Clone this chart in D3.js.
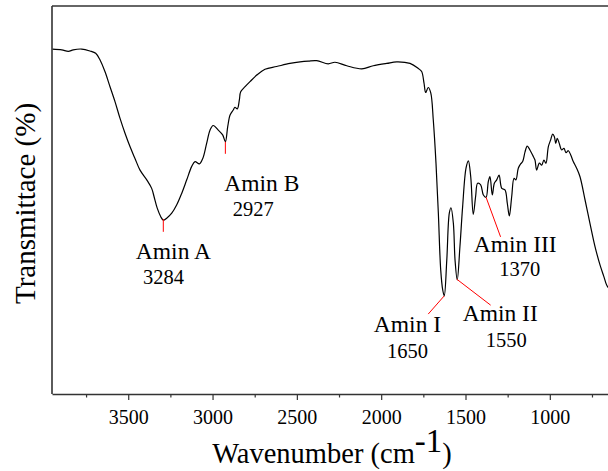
<!DOCTYPE html>
<html>
<head>
<meta charset="utf-8">
<script src="https://cdn.jsdelivr.net/npm/d3@7/dist/d3.min.js"></script>
<style>
  html, body { margin: 0; padding: 0; background: #fff; }
  svg { display: block; }
  text { font-family: "Liberation Serif", "Times New Roman", serif; fill: #000; }
</style>
</head>
<body>
<svg id="chart" width="608" height="471"></svg>
<script>
// ---- data ----
const wavenumber = [3950,3894,3855,3826,3776,3727,3693,3667,3638,3608,3578,3549,3519,3489,3460,3430,3390,3361,3347,3328,3307,3292,3272,3242,3213,3183,3153,3124,3104,3078,3058,3035,3015,2996,2966,2940,2924,2910,2896,2877,2867,2853,2841,2833,2807,2778,2738,2689,2620,2541,2481,2432,2382,2314,2274,2204,2115,2047,1967,1908,1829,1780,1760,1746,1736,1721,1706,1691,1675,1661,1647,1635,1626,1611,1596,1586,1572,1562,1549,1533,1517,1497,1483,1469,1454,1440,1428,1410,1394,1378,1365,1355,1341,1329,1315,1301,1285,1266,1252,1240,1226,1212,1201,1187,1173,1161,1147,1134,1118,1098,1088,1078,1062,1048,1035,1023,1009,995,983,973,965,956,944,930,916,904,890,876,861,841,821,791,762,732,702,679,663,643];
const transmittance = [88.9,88.7,88.3,88.7,88.9,88.4,87.8,86.1,83.1,79.2,75.3,71.1,67.2,63.7,60.7,57.7,55.2,53.0,50.9,47.9,45.7,44.8,45.3,46.6,48.7,51.7,55.2,58.6,59.9,59.3,60.7,64.6,68.0,69.2,68.0,66.8,65.0,68.9,71.9,73.2,73.9,73.5,75.8,77.9,79.2,80.5,82.2,83.7,84.4,85.2,85.6,85.8,85.9,85.1,85.5,84.6,83.8,84.6,85.2,85.6,85.2,83.9,83.1,80.1,77.7,79.0,77.6,70.6,59.5,46.6,32.0,26.8,25.3,34.5,46.6,48.0,44.0,34.5,29.4,38.0,48.3,58.2,60.1,56.0,46.3,50.9,54.3,53.9,51.3,50.7,54.7,56.0,51.3,54.3,55.2,56.4,53.0,52.6,49.1,45.9,50.9,55.6,55.2,58.2,59.3,59.9,62.4,63.9,62.9,61.2,60.3,57.7,59.5,59.0,60.3,59.5,63.7,65.5,67.0,66.3,64.6,65.9,64.6,62.9,63.3,62.2,62.7,61.6,59.9,58.2,56.0,50.0,44.0,38.0,33.2,30.2,28.1,26.8];

const majorTicks = [3500, 3000, 2500, 2000, 1500, 1000];
const minorTicks = [3750, 3250, 2750, 2250, 1750, 1250, 750];

// annotations: peak labels, names, numbers
const annNames   = ["Amin A", "Amin B", "Amin I", "Amin II", "Amin III"];
const annNumbers = ["3284", "2927", "1650", "1550", "1370"];
// leader line ends (wavenumber, transmittance)
const leadW1 = [3292, 2924, 1626, 1552, 1378];
const leadT1 = [45.1, 65.0, 25.3, 29.6, 50.7];
const leadW2 = [3292, 2924, 1721, 1351, 1292];
const leadT2 = [41.8, 61.9, 20.6, 22.9, 40.5];
// label anchor positions (wavenumber, transmittance)
const nameW = [3232, 2708, 1844, 1294, 1205];
const nameT = [34.7, 52.2, 16.1, 18.9, 36.5];
const numW  = [3291, 2758, 1844, 1259, 1179];
const numT  = [28.4, 45.9, 9.2, 12.2, 30.5];

// ---- layout ----
const mLeft = 52, mRight = 608, mTop = 6, mBottom = 394;
const svg = d3.select("#chart");

const x = d3.scaleLinear().domain([3952, 655]).range([mLeft, mRight]);
const y = d3.scaleLinear().domain([0, 100]).range([mBottom, mTop]);

svg.append("defs").append("clipPath").attr("id", "plotclip")
  .append("rect").attr("x", mLeft).attr("y", mTop).attr("width", mRight - mLeft).attr("height", mBottom - mTop);

// spectrum
const pts = wavenumber.map((w, i) => [w, transmittance[i]]);
const line = d3.line().x(d => x(d[0])).y(d => y(d[1])).curve(d3.curveCatmullRom.alpha(0.5));
svg.append("path")
  .attr("clip-path", "url(#plotclip)")
  .attr("d", line(pts))
  .attr("fill", "none")
  .attr("stroke", "#000")
  .attr("stroke-width", 1.2)
  .attr("stroke-linejoin", "round");

// frame: left, top
const frame = svg.append("g").attr("stroke", "#333").attr("stroke-width", 1.6).attr("fill", "none");
frame.append("line").attr("x1", mLeft).attr("x2", mLeft).attr("y1", mTop).attr("y2", mBottom);
frame.append("line").attr("x1", mLeft).attr("x2", mRight).attr("y1", mTop).attr("y2", mTop);

// bottom axis (major)
const xAxis = d3.axisBottom(x).tickValues(majorTicks).tickSize(6).tickSizeOuter(0).tickFormat(d3.format("d"));
const gx = svg.append("g").attr("transform", `translate(0,${mBottom})`).call(xAxis);
gx.select(".domain").attr("stroke", "#333").attr("stroke-width", 1.6);
gx.selectAll(".tick line").attr("stroke", "#333").attr("stroke-width", 1.2);
gx.selectAll(".tick text").attr("font-size", 20).attr("dy", 0).attr("y", 29.5)
  .style("font-family", '"Liberation Serif", "Times New Roman", serif').attr("fill", "#000");

// minor ticks
const xMinor = d3.axisBottom(x).tickValues(minorTicks).tickSize(3.5).tickFormat("");
const gm = svg.append("g").attr("transform", `translate(0,${mBottom})`).call(xMinor);
gm.select(".domain").remove();
gm.selectAll(".tick line").attr("stroke", "#333").attr("stroke-width", 1.2);

// annotations
const ann = svg.append("g");
annNames.forEach((name, i) => {
  ann.append("line")
    .attr("x1", x(leadW1[i])).attr("y1", y(leadT1[i]))
    .attr("x2", x(leadW2[i])).attr("y2", y(leadT2[i]))
    .attr("stroke", "#ff0000").attr("stroke-width", 1);
  ann.append("text").attr("x", x(nameW[i])).attr("y", y(nameT[i]))
    .attr("text-anchor", "middle").attr("font-size", 23.5).text(name);
  ann.append("text").attr("x", x(numW[i])).attr("y", y(numT[i]))
    .attr("text-anchor", "middle").attr("font-size", 20.5).text(annNumbers[i]);
});

// axis titles
const xt = svg.append("text").attr("x", 332).attr("y", 462.7).attr("text-anchor", "middle").attr("font-size", 28.5);
xt.append("tspan").text("Wavenumber (cm");
xt.append("tspan").attr("font-size", 33).attr("dy", -11).text("-1");
xt.append("tspan").attr("dx", 0).attr("dy", 11).text(")");

svg.append("text")
  .attr("transform", "translate(35,203.5) rotate(-90)")
  .attr("text-anchor", "middle").attr("font-size", 29)
  .text("Transmittace (%)");
</script>
</body>
</html>
